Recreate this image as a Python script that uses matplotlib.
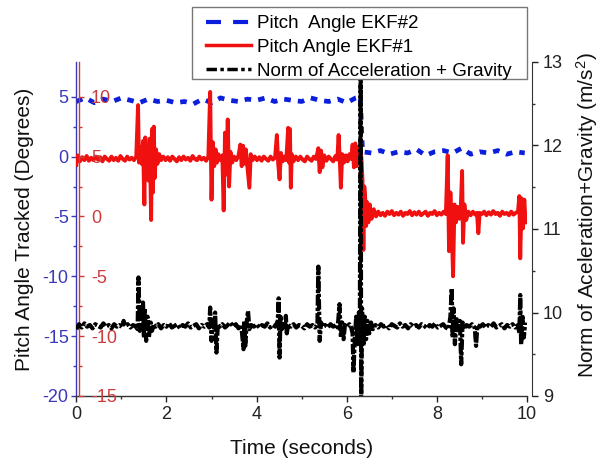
import matplotlib
matplotlib.use("Agg")
import matplotlib.pyplot as plt
from matplotlib.lines import Line2D
from matplotlib.patches import Rectangle

plt.rcParams['font.family'] = ['Liberation Sans', 'DejaVu Sans']
plt.rcParams['axes.unicode_minus'] = False
plt.rcParams['mathtext.fontset'] = 'custom'
plt.rcParams['mathtext.rm'] = 'Liberation Sans'
plt.rcParams['mathtext.it'] = 'Liberation Sans'

# ---------------- data ----------------
# Pitch Angle EKF#2 (degrees, left axis)
ekf2_t = [0.0, 0.2, 0.4, 0.6, 0.8, 1.0, 1.2, 1.4, 1.6, 1.8, 2.0, 2.2, 2.4, 2.6, 2.8, 3.0,
          3.2, 3.4, 3.6, 3.8, 4.0, 4.2, 4.4, 4.6, 4.8, 5.0, 5.2, 5.4, 5.6, 5.8, 6.0, 6.2, 6.3,
          6.35, 6.55, 6.75, 6.95, 7.15, 7.35, 7.55, 7.75, 7.95, 8.15, 8.35, 8.55, 8.75,
          8.95, 9.15, 9.35, 9.55, 9.75, 9.95]
ekf2_v = [4.6, 4.9, 4.5, 4.8, 4.6, 4.9, 4.7, 4.5, 4.8, 4.6, 4.7, 4.5, 4.6, 4.4, 4.8, 4.5,
          4.9, 4.7, 4.6, 4.8, 4.7, 4.9, 4.6, 4.8, 4.7, 4.6, 4.9, 4.7, 4.6, 4.8, 4.5, 4.9, 5.0,
          0.4, 0.3, 0.5, 0.2, 0.4, 0.3, 0.6, 0.1, 0.4, 0.5, 0.3, 0.7, 0.2,
          0.4, 0.3, 0.5, 0.2, 0.4, 0.3]

# Pitch Angle EKF#1 (degrees, left axis)
ekf1_t = [0.00, 0.03, 0.08, 0.13, 0.18, 0.23, 0.28, 0.33, 0.38, 0.43, 0.48, 0.53, 0.58, 0.63,
          0.68, 0.73, 0.78, 0.83, 0.88, 0.93, 0.98, 1.03, 1.08, 1.13, 1.18, 1.23, 1.28, 1.33,
          1.37, 1.39, 1.42, 1.45, 1.48, 1.51, 1.53, 1.55, 1.58, 1.60, 1.63, 1.66, 1.68, 1.70,
          1.72, 1.74, 1.77, 1.80, 1.84, 1.88,
          1.93, 1.98, 2.03, 2.08, 2.13, 2.18, 2.23, 2.28, 2.33, 2.38, 2.43, 2.48, 2.53, 2.58,
          2.63, 2.68, 2.73, 2.78, 2.83, 2.88, 2.93,
          2.97, 3.00, 3.03, 3.06, 3.09, 3.12, 3.15, 3.20, 3.24, 3.27, 3.30, 3.33, 3.36, 3.39,
          3.42, 3.46, 3.50, 3.55, 3.60,
          3.64, 3.67, 3.70, 3.73, 3.76, 3.80, 3.84, 3.87, 3.91,
          3.96, 4.01, 4.06, 4.11, 4.16, 4.21, 4.26, 4.31, 4.36, 4.41,
          4.45, 4.48, 4.51, 4.54, 4.58, 4.62, 4.66,
          4.70, 4.72, 4.74, 4.76, 4.78, 4.82, 4.87,
          4.92, 4.97, 5.02, 5.07, 5.12, 5.17, 5.22, 5.27, 5.32,
          5.37, 5.40, 5.43, 5.46, 5.50,
          5.55, 5.60, 5.65, 5.70, 5.75, 5.79,
          5.82, 5.85, 5.87, 5.90, 5.94,
          5.98, 6.02, 6.06, 6.10, 6.13, 6.16, 6.19, 6.22, 6.25, 6.28, 6.31, 6.33,
          6.35, 6.37, 6.39, 6.41, 6.43, 6.45, 6.48, 6.51, 6.55, 6.60, 6.65,
          6.70, 6.75, 6.80, 6.85, 6.90, 6.95, 7.00, 7.05, 7.10, 7.15, 7.20, 7.25, 7.30, 7.35,
          7.40, 7.45, 7.50, 7.55, 7.60, 7.65, 7.70, 7.75, 7.80, 7.85, 7.90, 7.95, 8.00, 8.05,
          8.10, 8.15, 8.20,
          8.24, 8.27, 8.30, 8.33, 8.36, 8.39, 8.42, 8.46, 8.50, 8.53, 8.56, 8.58, 8.61, 8.65, 8.70,
          8.75, 8.80, 8.85, 8.89, 8.92, 8.95,
          9.00, 9.05, 9.10, 9.15, 9.20, 9.25, 9.30, 9.35, 9.40, 9.45, 9.50, 9.55, 9.60, 9.65,
          9.70, 9.75,
          9.80, 9.83, 9.85, 9.88, 9.91, 9.94, 9.97]
ekf1_v = [-0.7, 0.1, -0.4, -0.05, -0.3, 0.05, -0.35, -0.1, -0.3, 0.0, -0.25, -0.05, -0.4, 0.0,
          -0.2, -0.35, 0.0, -0.3, -0.1, -0.35, 0.05, -0.2, -0.35, 0.0, -0.25, -0.1, -0.3, 0.0,
          4.3, -0.5, 0.8, -0.6, 1.3, -4.0, 1.6, -1.2, 0.9, -2.0, 1.5, -5.3, 2.3, -3.0,
          2.5, -1.8, 0.6, -0.6, 0.2, -0.3,
          0.0, -0.3, -0.05, -0.35, 0.0, -0.2, -0.4, -0.05, -0.3, 0.0, -0.25, -0.1, -0.35, 0.05,
          -0.2, -0.3, 0.0, -0.25, -0.1, -0.35, 0.0,
          5.4, -3.6, 1.2, -0.8, 0.6, -0.5, 0.2, -0.3, 0.1, -4.5, 2.0, -1.5, 3.1, -2.5,
          0.4, -0.5, 0.0, -0.3, 0.1,
          1.0, -0.8, 0.9, -0.6, 0.6, -1.0, -2.6, 0.2, -0.3,
          0.0, -0.3, -0.05, -0.35, 0.0, -0.2, -0.35, 0.0, -0.25, -0.1,
          1.8, -0.6, -1.9, 0.3, -0.4, 0.0, -0.3,
          2.4, -0.5, 2.3, -2.6, 0.2, -0.4, 0.0,
          -0.3, 0.0, -0.25, -0.4, 0.0, -0.2, -0.35, 0.0, -0.2,
          0.7, -1.3, 0.5, -0.9, 0.1,
          -0.35, 0.0, -0.2, -0.4, 0.05, -0.25,
          1.8, -0.6, -2.6, 0.2, -0.5,
          0.1, -0.4, 0.2, -0.2, 1.0, -0.9, 1.1, -0.8, 0.8, -0.6, 0.6, -0.4,
          -2.0, -7.8, -2.5, -3.5, -5.8, -3.8, -5.5, -4.0, -5.2, -4.4, -5.0,
          -4.6, -4.9, -4.7, -4.95, -4.6, -4.8, -4.55, -4.9, -4.7, -4.85, -4.6, -4.95, -4.7, -4.8,
          -4.55, -4.9, -4.65, -4.85, -4.6, -4.9, -4.75, -4.6, -4.95, -4.7, -4.8, -4.55, -4.9, -4.7,
          -4.85, -4.6, -4.8,
          0.1, -7.9, -3.0, -6.0, -10.0, -4.0, -5.5, -4.2, -5.2, -4.3, -1.2, -7.2, -4.0, -5.3, -4.6,
          -4.9, -4.6, -4.85, -4.7, -6.4, -4.7,
          -4.8, -4.6, -4.9, -4.65, -4.85, -4.55, -4.8, -4.7, -4.95, -4.6, -4.8, -4.7, -4.9, -4.6,
          -4.85, -4.7,
          -4.6, -3.3, -8.5, -3.5, -6.0, -3.6, -5.5]

# Norm of Acceleration + Gravity (m/s^2, right axis)
acc_t = [0.00, 0.06, 0.12, 0.18, 0.24, 0.30, 0.36, 0.42, 0.48, 0.54, 0.60, 0.66, 0.72, 0.78,
         0.84, 0.90, 0.96, 1.02, 1.05, 1.08, 1.14, 1.20, 1.26, 1.32,
         1.36, 1.38, 1.41, 1.44, 1.48, 1.50, 1.52, 1.55, 1.58, 1.61, 1.65, 1.68, 1.72,
         1.76, 1.82, 1.88, 1.94, 2.00, 2.06, 2.12, 2.18, 2.24, 2.30, 2.36, 2.42, 2.48, 2.54,
         2.60, 2.66, 2.72, 2.78, 2.84, 2.90,
         2.95, 2.97, 3.00, 3.03, 3.06, 3.08, 3.11, 3.14, 3.18,
         3.24, 3.30, 3.36, 3.42, 3.48, 3.54, 3.60, 3.66,
         3.71, 3.73, 3.75, 3.78, 3.81, 3.84, 3.88,
         3.94, 4.00, 4.06, 4.12, 4.18, 4.24, 4.30, 4.36, 4.42,
         4.47, 4.49, 4.51, 4.53, 4.56, 4.60, 4.63, 4.65, 4.67, 4.70,
         4.76, 4.82, 4.88, 4.94, 5.00, 5.06, 5.12, 5.18, 5.24, 5.30,
         5.35, 5.37, 5.40, 5.43, 5.47,
         5.52, 5.58, 5.64, 5.70, 5.76, 5.80,
         5.84, 5.87, 5.90, 5.93, 5.96, 6.01, 6.06, 6.10, 6.13, 6.15, 6.18, 6.21, 6.24, 6.27,
         6.29, 6.31, 6.32, 6.34, 6.37, 6.40, 6.43, 6.46, 6.50, 6.54, 6.58,
         6.64, 6.70, 6.76, 6.82, 6.88, 6.94, 7.00, 7.06, 7.12, 7.18, 7.24, 7.30, 7.36, 7.42,
         7.48, 7.54, 7.60, 7.66, 7.72, 7.78, 7.84, 7.90, 7.96, 8.02, 8.08, 8.14, 8.20, 8.26,
         8.30, 8.33, 8.35, 8.37, 8.40, 8.44, 8.48, 8.51, 8.54, 8.57, 8.61, 8.66,
         8.72, 8.78, 8.84, 8.87, 8.90,
         8.96, 9.02, 9.08, 9.14, 9.20, 9.26, 9.32, 9.38, 9.44, 9.50, 9.56, 9.62, 9.68, 9.74, 9.80,
         9.83, 9.85, 9.87, 9.90, 9.93, 9.96]
acc_v = [9.80, 9.86, 9.82, 9.87, 9.83, 9.85, 9.81, 9.86, 9.84, 9.82, 9.87, 9.83, 9.85, 9.81,
         9.86, 9.83, 9.85, 9.82, 9.90, 9.84, 9.86, 9.82, 9.85, 9.83,
         9.80, 10.42, 9.78, 9.90, 10.12, 9.70, 10.05, 9.66, 9.95, 9.70, 9.88, 9.78, 9.86,
         9.83, 9.86, 9.81, 9.85, 9.83, 9.87, 9.82, 9.84, 9.86, 9.81, 9.85, 9.83, 9.87, 9.82,
         9.84, 9.86, 9.81, 9.85, 9.83, 9.86,
         9.82, 10.06, 9.66, 9.90, 9.80, 10.00, 9.52, 9.86, 9.83,
         9.86, 9.82, 9.85, 9.88, 9.83, 9.86, 9.81, 9.85,
         9.56, 9.90, 9.60, 9.88, 10.02, 9.80, 9.85,
         9.83, 9.86, 9.82, 9.85, 9.83, 9.87, 9.82, 9.85, 9.83,
         9.90, 10.17, 9.46, 9.95, 9.80, 9.86, 9.82, 9.96, 9.75, 9.85,
         9.83, 9.86, 9.82, 9.85, 9.84, 9.81, 9.86, 9.83, 9.85, 9.82,
         9.86, 10.55, 9.66, 9.88, 9.83,
         9.85, 9.82, 9.86, 9.83, 9.85, 9.82,
         10.10, 9.70, 9.88, 9.68, 9.85, 9.83, 9.86, 9.82, 9.75, 9.28, 9.70, 9.95, 9.62, 10.00,
         9.60, 13.5, 8.8, 10.05, 9.60, 9.95, 9.68, 9.90, 9.75, 9.88, 9.80,
         9.85, 9.82, 9.86, 9.83, 9.85, 9.81, 9.86, 9.84, 9.82, 9.87, 9.83, 9.85, 9.81, 9.86,
         9.83, 9.85, 9.82, 9.86, 9.84, 9.81, 9.85, 9.83, 9.87, 9.82, 9.84, 9.86, 9.82, 9.80,
         9.95, 10.29, 9.70, 10.05, 9.62, 9.92, 9.80, 9.90, 9.38, 9.88, 9.80, 9.85,
         9.83, 9.86, 9.82, 9.60, 9.85,
         9.83, 9.86, 9.82, 9.85, 9.83, 9.87, 9.82, 9.84, 9.86, 9.81, 9.85, 9.83, 9.86, 9.82, 9.85,
         9.75, 10.21, 9.62, 9.95, 9.70, 9.88]

x_ticks = [0, 2, 4, 6, 8, 10]
left_ticks = [-20, -15, -10, -5, 0, 5]
red_ticks = [-15, -10, -5, 0, 5, 10]
right_ticks = [9, 10, 11, 12, 13]

labels = ['Pitch  Angle EKF#2', 'Pitch Angle EKF#1', 'Norm of Acceleration + Gravity']

BLUE = '#0a1edc'
RED = '#f01010'
BLUE_AX = '#3a3ab8'
RED_AX = '#cc3c3c'

W, H = 601, 463

# ---------------- figure ----------------
fig = plt.figure(figsize=(W / 100, H / 100), dpi=100)
L, R, B, T = 76.3 / W, 527 / W, 1 - 396 / H, 1 - 62 / H
ax = fig.add_axes([L, B, R - L, T - B])
ax_red = ax.twinx()
ax_r = ax.twinx()

ax.plot(ekf2_t, ekf2_v, color=BLUE, lw=3.4, linestyle=(0, (1.4, 1.5)), zorder=2)
ax.plot(ekf1_t, ekf1_v, color=RED, lw=2.8, zorder=3)
ax_r.plot(acc_t, acc_v, color='black', lw=3.0, linestyle=(0, (2.5, 0.5, 0.8, 0.5)))

ax.set_xlim(0, 10)
ax.set_ylim(-20, 7.9)
ax_red.set_ylim(-15, 12.9)
ax_r.set_ylim(9, 13)

# main axis
for s in ['top', 'right']:
    ax.spines[s].set_visible(False)
ax.spines['left'].set_color(BLUE_AX)
ax.spines['left'].set_linewidth(1.0)
ax.spines['bottom'].set_color('#333333')
ax.spines['bottom'].set_linewidth(1.0)
ax.set_xticks(x_ticks)
ax.set_xticks([1, 3, 5, 7, 9], minor=True)
ax.set_yticks(left_ticks)
ax.set_yticks([-17.5, -12.5, -7.5, -2.5, 2.5], minor=True)
ax.tick_params(axis='x', which='major', direction='out', length=4, width=1,
               labelsize=13, colors='#222222', pad=3)
ax.tick_params(axis='x', which='minor', direction='out', length=2.5, width=1, color='#333333')
ax.tick_params(axis='y', which='major', direction='out', length=3.5, width=1,
               labelsize=13, colors=BLUE_AX, pad=2)
ax.tick_params(axis='y', which='minor', direction='out', length=2.5, width=1, color=BLUE_AX)
ax.set_xlabel('Time (seconds)', fontsize=15, color='#111111', labelpad=12)
ax.set_ylabel('Pitch Angle Tracked (Degrees)', fontsize=15, color='#111111', labelpad=6)

# red secondary left axis
for s in ['top', 'left', 'bottom']:
    ax_red.spines[s].set_visible(False)
ax_red.spines['right'].set_position(('axes', 3.0 / 450.7))
ax_red.spines['right'].set_color(RED_AX)
ax_red.spines['right'].set_linewidth(1.0)
ax_red.yaxis.set_ticks_position('right')
ax_red.set_yticks(red_ticks)
ax_red.set_yticks([-12.5, -7.5, -2.5, 2.5, 7.5], minor=True)
ax_red.tick_params(axis='y', which='major', direction='out', length=3.5, width=1,
                   labelsize=13, colors=RED_AX, pad=5)
ax_red.tick_params(axis='y', which='minor', direction='out', length=2.5, width=1, color=RED_AX)

# right axis
for s in ['top', 'left', 'bottom']:
    ax_r.spines[s].set_visible(False)
ax_r.spines['right'].set_position(('outward', 3.6))
ax_r.spines['right'].set_color('#333333')
ax_r.set_yticks(right_ticks)
ax_r.set_yticks([9.5, 10.5, 11.5, 12.5], minor=True)
ax_r.tick_params(axis='y', which='major', direction='out', length=4, width=1,
                 labelsize=13, colors='#222222', pad=4)
ax_r.tick_params(axis='y', which='minor', direction='out', length=2.5, width=1, color='#333333')
ax_r.set_ylabel('Norm of Aceleration+Gravity (m/s$^2$)', fontsize=15, color='#111111')
ax_r.yaxis.set_label_coords((574 - 76.3) / 450.7, (396 - 215) / 334.0)

# legend (frame drawn as a separate rectangle to match the reference padding)
fig.patches.append(Rectangle((192 / W, 1 - 79 / H), (527 - 192) / W, (79 - 7) / H,
                             transform=fig.transFigure, facecolor='white',
                             edgecolor='#777777', lw=1.0, zorder=9))
handles = [
    Line2D([], [], color=BLUE, lw=3, linestyle=(0, (3.6, 2.9))),
    Line2D([], [], color=RED, lw=2.5),
    Line2D([], [], color='black', lw=2.5, linestyle=(0, (3, 1, 1, 1))),
]
leg = fig.legend(handles, labels, loc='upper left', bbox_to_anchor=(206 / W, 1 - 15 / H),
                 fontsize=13.5, frameon=False, handlelength=2.4, handletextpad=0.3,
                 labelspacing=0.36, borderpad=0.0, borderaxespad=0)
leg.set_zorder(10)

fig.savefig('out.png', dpi=100)
